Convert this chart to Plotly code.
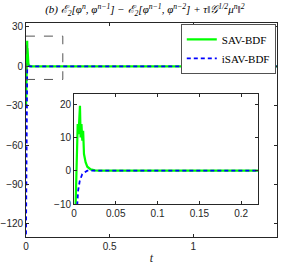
import plotly.graph_objects as go

# SAV-BDF series
t_sav = [0, 0.001, 0.002, 0.0035, 0.0045, 0.0055, 0.0065, 0.0072, 0.008, 0.009,
         0.010, 0.011, 0.012, 0.014, 0.016, 0.020, 0.025, 0.030, 0.05, 0.1, 0.2, 0.5, 1.0, 1.5]
v_sav = [-30, -20, -10, 5, 14, 11, 16, 19.5, 10, 14,
         9, 12, 5, 2.5, 1.2, 0.4, 0.1, 0, 0, 0, 0, 0, 0, 0]
# iSAV-BDF series
t_isav = [0, 0.002, 0.004, 0.005, 0.007, 0.010, 0.013, 0.016, 0.03, 0.05, 0.1, 0.2, 0.5, 1.0, 1.5]
v_isav = [-128, -60, -10, -6, -3, -1, -0.4, 0, 0, 0, 0, 0, 0, 0, 0]

main_xticks = [0, 0.5, 1, 1.5]
main_yticks = [30, 0, -30, -60, -90, -120]
inset_xticks = [0, 0.05, 0.1, 0.15, 0.2]
inset_yticks = [-10, 0, 10, 20]
zoom_box = dict(x0=0, x1=0.22, y0=-10, y1=23)

green = '#00FF00'
blue = '#0000FF'
axcol = '#262626'
tickfont = dict(family='Liberation Sans', size=10, color=axcol)
blue_dash = '4px,3px'

fig = go.Figure()
fig.add_trace(go.Scatter(x=t_sav, y=v_sav, mode='lines', name='SAV-BDF',
                         line=dict(color=green, width=2.2), xaxis='x', yaxis='y'))
fig.add_trace(go.Scatter(x=t_isav, y=v_isav, mode='lines', name='iSAV-BDF',
                         line=dict(color=blue, width=1.8, dash=blue_dash), xaxis='x', yaxis='y'))
fig.add_trace(go.Scatter(x=t_sav, y=v_sav, mode='lines', showlegend=False,
                         line=dict(color=green, width=2.2), xaxis='x2', yaxis='y2'))
fig.add_trace(go.Scatter(x=t_isav, y=v_isav, mode='lines', showlegend=False,
                         line=dict(color=blue, width=1.8, dash=blue_dash), xaxis='x2', yaxis='y2'))

axis_common = dict(showgrid=False, zeroline=False, showline=True, linecolor=axcol,
                   linewidth=0.8, mirror='ticks', ticks='inside', ticklen=3,
                   tickcolor=axcol, tickfont=tickfont, automargin=False)

E = '<span style="font-family:DejaVu Serif">ℰ</span>'
G = '<span style="font-family:DejaVu Serif">𝒢</span>'
title_txt = ('<i>(b) ' + E + '<sub>2</sub>[φ<sup>n</sup>, φ<sup>n−1</sup>] − ' + E +
             '<sub>2</sub>[φ<sup>n−1</sup>, φ<sup>n−2</sup>] + τ‖' + G +
             '<sup>1/2</sup>μ<sup>n</sup>‖<sup>2</sup></i>')

fig.update_layout(
    width=284, height=273,
    margin=dict(l=26, r=7, t=23, b=36),
    plot_bgcolor='white', paper_bgcolor='white',
    title=dict(text=title_txt,
               x=0.51, xanchor='center', y=0.965, yanchor='middle',
               font=dict(family='Liberation Serif', size=11, color='black')),
    xaxis=dict(range=[0, 1.5], tickvals=main_xticks, ticktext=['0', '0.5', '1', '1.5'],
               domain=[0, 1],
               title=dict(text='<i>t</i>', standoff=2,
                          font=dict(family='Liberation Serif', size=12, color=axcol)),
               **axis_common),
    yaxis=dict(range=[-130, 33], tickvals=main_yticks, domain=[0, 1], **axis_common),
    xaxis2=dict(range=[0, 0.22], tickvals=inset_xticks, ticktext=['0', '0.05', '0.1', '0.15', '0.2'],
                domain=[0.191, 0.924], anchor='y2', **axis_common),
    yaxis2=dict(range=[-10, 23], tickvals=inset_yticks, domain=[0.154, 0.668], anchor='x2',
                **axis_common),
    legend=dict(x=0.996, xanchor='right', y=0.995, yanchor='top',
                bgcolor='white', bordercolor=axcol, borderwidth=0.8,
                font=dict(family='Liberation Serif', size=11, color='black'),
                tracegroupgap=0, itemwidth=30),
    showlegend=True,
)

fig.add_shape(type='rect', xref='x', yref='y', **zoom_box,
              line=dict(color='#555555', width=1, dash='dash'))

fig.write_html('out.html', config={'displayModeBar': False},
               post_script="document.body.style.margin='0px';")
